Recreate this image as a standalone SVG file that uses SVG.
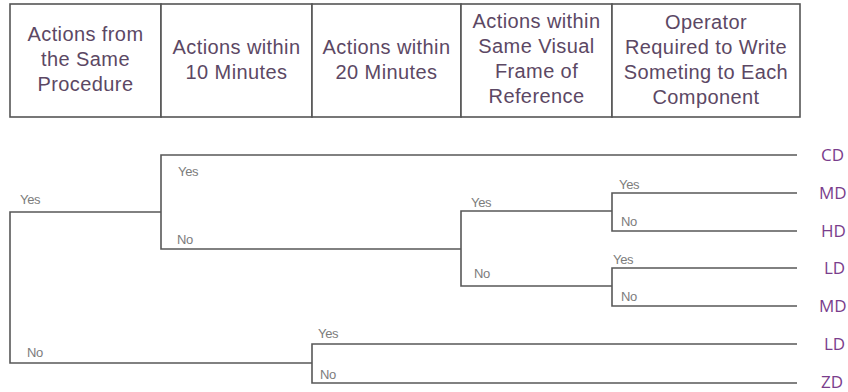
<svg xmlns="http://www.w3.org/2000/svg" width="848" height="392" viewBox="0 0 848 392">
<style>
.cell{fill:#ffffff;stroke:#555555;stroke-width:1.6}
.hd{font-family:"Liberation Sans",Arial,sans-serif;font-size:20px;letter-spacing:0.4px;fill:#5c4864;text-anchor:middle}
.yn{font-family:"Liberation Sans",Arial,sans-serif;font-size:13px;letter-spacing:-0.3px;fill:#7c7c7c}
.leaf{font-family:"Open Sans","Noto Sans",sans-serif;font-size:17px;fill:#7a3d8c}
.ln{fill:none;stroke:#585858;stroke-width:1.6}
</style>
<rect width="848" height="392" fill="#ffffff"/>
<g id="header">
  <g id="col1">
    <rect class="cell" x="10" y="4" width="151" height="113"/>
    <text class="hd" x="85.5" y="41">Actions from</text>
    <text class="hd" x="85.5" y="66">the Same</text>
    <text class="hd" x="85.5" y="91">Procedure</text>
  </g>
  <g id="col2">
    <rect class="cell" x="161" y="4" width="151" height="113"/>
    <text class="hd" x="236.5" y="54">Actions within</text>
    <text class="hd" x="236.5" y="79">10 Minutes</text>
  </g>
  <g id="col3">
    <rect class="cell" x="312" y="4" width="149" height="113"/>
    <text class="hd" x="386.5" y="54">Actions within</text>
    <text class="hd" x="386.5" y="79">20 Minutes</text>
  </g>
  <g id="col4">
    <rect class="cell" x="461" y="4" width="151" height="113"/>
    <text class="hd" x="536.5" y="28">Actions within</text>
    <text class="hd" x="536.5" y="53">Same Visual</text>
    <text class="hd" x="536.5" y="78">Frame of</text>
    <text class="hd" x="536.5" y="103">Reference</text>
  </g>
  <g id="col5">
    <rect class="cell" x="612" y="4" width="188" height="113"/>
    <text class="hd" x="706" y="29">Operator</text>
    <text class="hd" x="706" y="54">Required to Write</text>
    <text class="hd" x="706" y="79">Someting to Each</text>
    <text class="hd" x="706" y="104">Component</text>
  </g>
</g>
<g id="connectors">
  <path class="ln" d="M161,212 H10 V363 H312"/>
  <path class="ln" d="M797,155 H161 V249 H461"/>
  <path class="ln" d="M612,211 H461 V286 H612"/>
  <path class="ln" d="M797,193 H612 V231 H797"/>
  <path class="ln" d="M797,268 H612 V306 H797"/>
  <path class="ln" d="M797,344 H312 V383 H797"/>
  <text class="yn" x="20" y="204">Yes</text>
  <text class="yn" x="27" y="357">No</text>
  <text class="yn" x="178" y="176">Yes</text>
  <text class="yn" x="177" y="244">No</text>
  <text class="yn" x="471" y="207">Yes</text>
  <text class="yn" x="474" y="278">No</text>
  <text class="yn" x="619" y="189">Yes</text>
  <text class="yn" x="621" y="226">No</text>
  <text class="yn" x="613" y="264">Yes</text>
  <text class="yn" x="621" y="301">No</text>
  <text class="yn" x="318" y="338">Yes</text>
  <text class="yn" x="320" y="379">No</text>
</g>
<g id="leaves">
  <g id="leaf-cd"><text class="leaf" x="821" y="161">CD</text></g>
  <g id="leaf-md1"><text class="leaf" x="819" y="199">MD</text></g>
  <g id="leaf-hd"><text class="leaf" x="821" y="237">HD</text></g>
  <g id="leaf-ld1"><text class="leaf" x="824" y="274">LD</text></g>
  <g id="leaf-md2"><text class="leaf" x="819" y="312">MD</text></g>
  <g id="leaf-ld2"><text class="leaf" x="824" y="350">LD</text></g>
  <g id="leaf-zd"><text class="leaf" x="821" y="388">ZD</text></g>
</g>
</svg>
